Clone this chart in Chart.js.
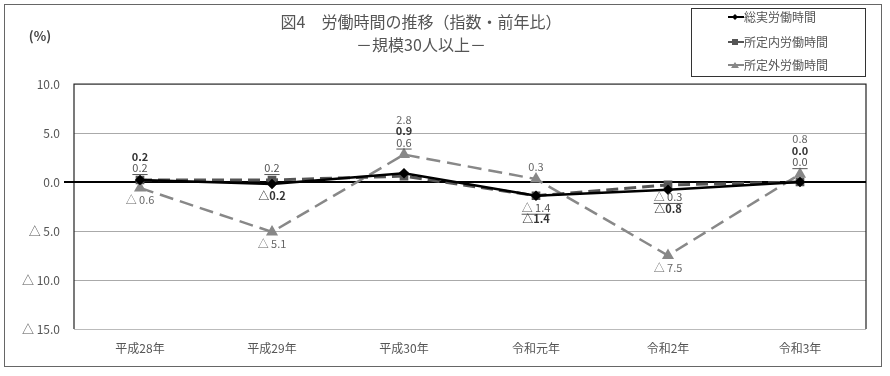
<!DOCTYPE html>
<html>
<head>
<meta charset="utf-8">
<script src="https://cdn.jsdelivr.net/npm/chart.js"></script>
<style>
  body { margin: 0; background: #fff; }
  #wrap { position: relative; width: 890px; height: 376px; }
  #frame { position: absolute; left: 4px; top: 4px; width: 876px; height: 361px; border: 1.5px solid #666; pointer-events: none; }
</style>
</head>
<body>
<div id="wrap">
  <canvas id="chart" width="890" height="376"></canvas>
  <div id="frame"></div>
</div>
<script>
// 図4 労働時間の推移（指数・前年比） 規模30人以上
const years = ["平成28年", "平成29年", "平成30年", "令和元年", "令和2年", "令和3年"];
const soujitsu = [0.2, -0.2, 0.9, -1.4, -0.8, 0.0];   // 総実労働時間
const shoteinai = [0.2, 0.2, 0.6, -1.4, -0.3, 0.0];   // 所定内労働時間
const shoteigai = [-0.6, -5.1, 2.8, 0.3, -7.5, 0.8];  // 所定外労働時間
const yTicks = [10, 5, 0, -5, -10, -15];

// ラベルの上下 (a=上, b=下)
const sideSoujitsu = ["a", "b", "a", "b", "b", "a"];
const sideNai = ["a", "a", "a", "b", "b", "a"];
const sideGai = ["b", "b", "a", "a", "b", "a"];

const FONT = "'Noto Sans CJK JP', 'Noto Sans', sans-serif";

function fmt(v, tight) {
  if (v < 0) return "△" + (tight ? "" : " ") + Math.abs(v).toFixed(1);
  return v.toFixed(1);
}

const decoPlugin = {
  id: "deco",
  beforeDatasetsDraw(chart) {
    const { ctx, chartArea: a, scales } = chart;
    const y0 = scales.y.getPixelForValue(0);
    ctx.save();
    // 枠
    ctx.strokeStyle = "#bbb";
    ctx.lineWidth = 1;
    ctx.beginPath();
    ctx.moveTo(a.left, a.bottom + 0.5);
    ctx.lineTo(a.right, a.bottom + 0.5);
    ctx.stroke();
    ctx.strokeStyle = "#222";
    ctx.lineWidth = 1.2;
    ctx.beginPath();
    ctx.moveTo(a.left, a.bottom);
    ctx.lineTo(a.left, a.top);
    ctx.lineTo(a.right, a.top);
    ctx.lineTo(a.right, a.bottom);
    ctx.stroke();
    // 0 の線
    ctx.strokeStyle = "#000";
    ctx.lineWidth = 2;
    ctx.beginPath();
    ctx.moveTo(a.left - 10, y0);
    ctx.lineTo(a.right, y0);
    ctx.stroke();
    ctx.restore();
  },
  afterDraw(chart) {
    const { ctx } = chart;
    ctx.save();
    // タイトル
    ctx.fillStyle = "#555";
    ctx.textAlign = "center";
    ctx.textBaseline = "middle";
    ctx.font = "16px " + FONT;
    ctx.fillText("図4　労働時間の推移（指数・前年比）", 421, 22);
    ctx.fillText("－規模30人以上－", 421, 45);
    ctx.font = "bold 13px " + FONT;
    ctx.fillStyle = "#444";
    ctx.fillText("(%)", 40, 36);

    // 凡例
    ctx.fillStyle = "#fff";
    ctx.fillRect(691, 8, 174, 68);
    ctx.strokeStyle = "#333";
    ctx.lineWidth = 1;
    ctx.strokeRect(691.5, 8.5, 174, 68);
    const rows = [17, 42, 65];
    chart.data.datasets.forEach((ds, i) => {
      const y = rows[i];
      ctx.strokeStyle = ds.borderColor;
      ctx.lineWidth = 2;
      ctx.setLineDash([]);
      ctx.beginPath();
      ctx.moveTo(728, y);
      ctx.lineTo(744, y);
      ctx.stroke();
      ctx.fillStyle = ds.borderColor;
      ctx.beginPath();
      if (i === 0) { ctx.moveTo(732, y); ctx.lineTo(735, y - 3); ctx.lineTo(738, y); ctx.lineTo(735, y + 3); }
      else if (i === 1) { ctx.rect(732, y - 3, 6, 6); }
      else { ctx.moveTo(731, y + 3); ctx.lineTo(735, y - 3); ctx.lineTo(739, y + 3); }
      ctx.fill();
      ctx.fillStyle = "#555";
      ctx.textAlign = "left";
      ctx.font = "12px " + FONT;
      ctx.fillText(ds.label, 744, y);
    });
    ctx.restore();
  },
  afterDatasetsDraw(chart) {
    const { ctx, scales } = chart;
    const sides = [sideSoujitsu, sideNai, sideGai];
    const styles = [
      { font: "bold 11px " + FONT, color: "#333", under: false, tight: true },
      { font: "11px " + FONT, color: "#555", under: true, tight: false },
      { font: "11px " + FONT, color: "#666", under: false, tight: false }
    ];
    const lh = 11.5;
    ctx.save();
    ctx.textAlign = "center";
    ctx.textBaseline = "middle";
    years.forEach((_, i) => {
      const x = scales.x.getPixelForValue(i);
      const items = chart.data.datasets.map((ds, d) => ({
        d, v: ds.data[i], py: scales.y.getPixelForValue(ds.data[i]), side: sides[d][i]
      }));
      const above = items.filter(it => it.side === "a");
      const below = items.filter(it => it.side === "b");
      // 上: 下から 所定内, 総実, 所定外
      if (above.length) {
        const top = Math.min(...above.map(it => it.py));
        let y = top - 12;
        [1, 0, 2].forEach(d => {
          const it = above.find(a => a.d === d);
          if (!it) return;
          it.ly = y;
          y -= lh;
        });
      }
      // 下: 点の位置順
      const ord = { 1: 0, 0: 1, 2: 2 };
      below.sort((p, q) => (p.py - q.py) || (ord[p.d] - ord[q.d]));
      let prev = -Infinity;
      below.forEach(it => {
        it.ly = Math.max(it.py + 12, prev + lh);
        prev = it.ly;
      });
      [...above, ...below].forEach(it => {
        const s = styles[it.d];
        const txt = fmt(it.v, s.tight);
        ctx.font = s.font;
        ctx.fillStyle = s.color;
        ctx.fillText(txt, x, it.ly);
        if (s.under) {
          const w = ctx.measureText(txt).width;
          ctx.strokeStyle = s.color;
          ctx.lineWidth = 1;
          ctx.beginPath();
          ctx.moveTo(x - w / 2, it.ly + 6.5);
          ctx.lineTo(x + w / 2, it.ly + 6.5);
          ctx.stroke();
        }
      });
    });
    ctx.restore();
  }
};

new Chart(document.getElementById("chart"), {
  type: "line",
  data: {
    labels: years,
    datasets: [
      {
        label: "総実労働時間",
        data: soujitsu,
        borderColor: "#000",
        backgroundColor: "#000",
        borderWidth: 2.5,
        pointStyle: "rectRot",
        pointRadius: 3.5,
        tension: 0
      },
      {
        label: "所定内労働時間",
        data: shoteinai,
        borderColor: "#555",
        backgroundColor: "#555",
        borderWidth: 3,
        borderDash: [12, 6],
        pointStyle: "rect",
        pointRadius: 4,
        tension: 0
      },
      {
        label: "所定外労働時間",
        data: shoteigai,
        borderColor: "#888",
        backgroundColor: "#888",
        borderWidth: 2.5,
        borderDash: [14, 7],
        pointStyle: "triangle",
        pointRadius: 4.5,
        tension: 0
      }
    ]
  },
  options: {
    responsive: false,
    animation: false,
    layout: { padding: { top: 84, right: 24, left: 0, bottom: 0 } },
    plugins: { legend: { display: false }, tooltip: { enabled: false } },
    scales: {
      x: {
        offset: true,
        border: { display: false },
        grid: { display: false, drawTicks: false },
        ticks: { color: "#555", font: { size: 12, family: FONT }, padding: 12 },
        afterFit(s) { s.height = 47; }
      },
      y: {
        min: -15,
        max: 10,
        border: { display: false },
        grid: { color: "#aaa", drawTicks: false },
        afterBuildTicks(s) { s.ticks = yTicks.map(v => ({ value: v })); },
        ticks: {
          color: "#555",
          font: { size: 12, family: FONT },
          padding: 14,
          callback: v => fmt(v, false)
        },
        afterFit(s) { s.width = 74; }
      }
    }
  },
  plugins: [decoPlugin]
});
</script>
</body>
</html>
